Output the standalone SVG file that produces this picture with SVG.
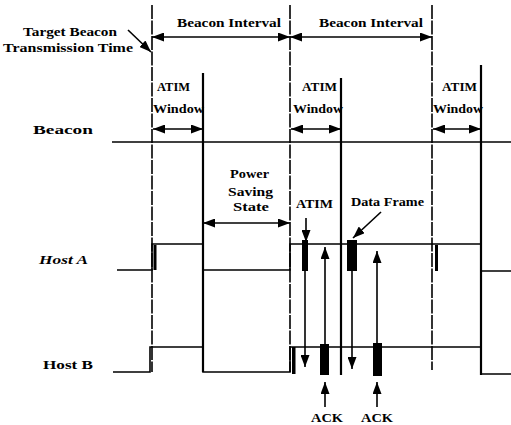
<svg xmlns="http://www.w3.org/2000/svg" width="511" height="425" viewBox="0 0 511 425">
<style>
text{font-family:"Liberation Serif","Times New Roman",serif;font-weight:bold;font-size:12.5px;fill:#000}
.it{font-style:italic}
.sig{fill:none;stroke:#000;stroke-width:1.6}
.dash{stroke:#000;stroke-width:1.6;stroke-dasharray:14 1.5}
.solid{stroke:#000;stroke-width:2.2}
.bar{fill:#000}
.arr{stroke:#000;stroke-width:1.6;fill:none;marker-end:url(#ah)}
.dbl{stroke:#000;stroke-width:1.6;fill:none;marker-start:url(#ah);marker-end:url(#ah)}
</style>
<defs>
<marker id="ah" markerUnits="userSpaceOnUse" markerWidth="12" markerHeight="9" viewBox="0 0 12 9" refX="12" refY="4.5" orient="auto-start-reverse">
<path d="M0,0 L12,4.5 L0,9 z" fill="#000"/>
</marker>
</defs>
<rect width="511" height="425" fill="#fff"/>
<g id="timeline">
<line class="dash" x1="152" y1="5" x2="152" y2="372"/>
<line class="solid" x1="203" y1="73" x2="203" y2="372"/>
<line class="dash" x1="290" y1="5" x2="290" y2="372"/>
<line class="solid" x1="341" y1="78" x2="341" y2="375"/>
<line class="dash" x1="432" y1="5" x2="432" y2="370"/>
<line class="solid" x1="481" y1="65" x2="481" y2="375"/>
</g>
<g id="labels-top">
<text x="23" y="36" textLength="94" lengthAdjust="spacingAndGlyphs">Target Beacon</text>
<text x="3" y="52" textLength="130" lengthAdjust="spacingAndGlyphs">Transmission Time</text>
<text x="177" y="27" textLength="104" lengthAdjust="spacingAndGlyphs">Beacon Interval</text>
<text x="319" y="27" textLength="104" lengthAdjust="spacingAndGlyphs">Beacon Interval</text>
<text x="157" y="91" textLength="33" lengthAdjust="spacingAndGlyphs">ATIM</text>
<text x="153" y="113" textLength="51" lengthAdjust="spacingAndGlyphs">Window</text>
<text x="302" y="91" textLength="35" lengthAdjust="spacingAndGlyphs">ATIM</text>
<text x="293" y="113" textLength="50" lengthAdjust="spacingAndGlyphs">Window</text>
<text x="442" y="91" textLength="35" lengthAdjust="spacingAndGlyphs">ATIM</text>
<text x="433" y="113" textLength="50" lengthAdjust="spacingAndGlyphs">Window</text>
</g>
<g id="beacon">
<text x="33" y="134" textLength="60" lengthAdjust="spacingAndGlyphs">Beacon</text>
<line class="sig" x1="112" y1="142" x2="511" y2="142"/>
</g>
<g id="power-saving">
<text x="230" y="178" textLength="39" lengthAdjust="spacingAndGlyphs">Power</text>
<text x="228" y="196" textLength="45" lengthAdjust="spacingAndGlyphs">Saving</text>
<text x="233" y="211" textLength="36" lengthAdjust="spacingAndGlyphs">State</text>
</g>
<g id="hostA">
<text class="it" x="39" y="264" textLength="49" lengthAdjust="spacingAndGlyphs">Host A</text>
<polyline class="sig" points="117,270 152,270 152,244 203,244 203,270 290,270 290,244 481,244 481,271 511,271"/>
<rect class="bar" x="153.5" y="245" width="3" height="25"/>
<rect class="bar" x="435" y="245" width="3" height="26"/>
<rect class="bar" x="302" y="240" width="6" height="31"/>
<rect class="bar" x="347" y="240" width="10" height="31"/>
<text x="296" y="208" textLength="37" lengthAdjust="spacingAndGlyphs">ATIM</text>
<text x="351" y="206" textLength="73" lengthAdjust="spacingAndGlyphs">Data Frame</text>
</g>
<g id="hostB">
<text x="43" y="369" textLength="50" lengthAdjust="spacingAndGlyphs">Host B</text>
<polyline class="sig" points="113,372 150,372 150,347 203,347 203,372 290,372 290,347 481,347 481,374 511,374"/>
<rect class="bar" x="292" y="347" width="3.5" height="27"/>
<rect class="bar" x="320" y="344" width="9" height="31"/>
<rect class="bar" x="373" y="343" width="9" height="33"/>
<text x="311" y="422" textLength="32" lengthAdjust="spacingAndGlyphs">ACK</text>
<text x="361" y="422" textLength="32" lengthAdjust="spacingAndGlyphs">ACK</text>
</g>
<g id="connectors">
<line class="dbl" x1="152" y1="37" x2="290" y2="37"/>
<line class="dbl" x1="290" y1="37" x2="432" y2="37"/>
<line class="dbl" x1="153" y1="129" x2="203" y2="129"/>
<line class="dbl" x1="291" y1="129" x2="341" y2="129"/>
<line class="dbl" x1="433" y1="129" x2="481" y2="129"/>
<line class="dbl" x1="203" y1="223" x2="290" y2="223"/>
<line class="arr" x1="128" y1="30" x2="151" y2="52"/>
<line class="arr" x1="306" y1="218" x2="306" y2="242"/>
<line class="arr" x1="381" y1="212" x2="353" y2="238"/>
<line class="arr" x1="305" y1="271" x2="305" y2="367"/>
<line class="arr" x1="352" y1="271" x2="352" y2="369"/>
<line class="arr" x1="325" y1="344" x2="325" y2="247"/>
<line class="arr" x1="377" y1="343" x2="377" y2="251"/>
<line class="arr" x1="325" y1="407" x2="325" y2="382"/>
<line class="arr" x1="377" y1="407" x2="377" y2="382"/>
</g>
</svg>
